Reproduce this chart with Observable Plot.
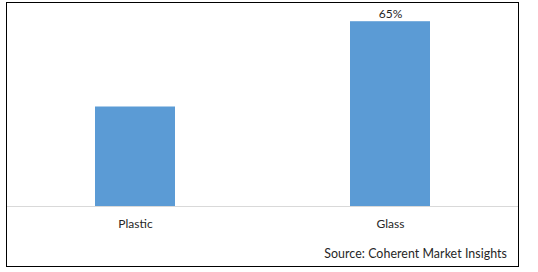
<!DOCTYPE html>
<html>
<head>
<meta charset="utf-8">
<script src="https://cdn.jsdelivr.net/npm/d3@7"></script>
<script src="https://cdn.jsdelivr.net/npm/@observablehq/plot@0.6"></script>
<style>
  html, body { margin: 0; padding: 0; background: #fff; }
  #wrap { position: relative; width: 538px; height: 272px; overflow: hidden; }
  #border { position: absolute; left: 6px; top: 2px; width: 513px; height: 265px; box-sizing: border-box; border: 1.5px solid #000; pointer-events: none; }
  #chart { position: absolute; left: 0; top: 0; }
  #source { position: absolute; right: 31px; top: 246px; font-family: Lato, "Open Sans", sans-serif; font-size: 12.4px; color: #262626; white-space: nowrap; letter-spacing: 0.05px; }
</style>
</head>
<body>
<div id="wrap">
  <div id="chart"></div>
  <div id="border"></div>
  <div id="source">Source: Coherent Market Insights</div>
</div>
<script>
const categories = ["Plastic", "Glass"];
const values = [35, 65];
const valueLabels = ["", "65%"];

const data = categories.map((c, i) => ({category: c, value: values[i], label: valueLabels[i]}));

const chart = Plot.plot({
  width: 538,
  height: 272,
  marginLeft: 7,
  marginRight: 20,
  marginTop: 7,
  marginBottom: 66,
  style: {fontFamily: "Lato, 'Open Sans', sans-serif", fontSize: "12px", color: "#262626", background: "transparent"},
  x: {domain: categories, paddingInner: 0.687, paddingOuter: 0.3435, label: null},
  y: {domain: [0, 70], axis: null},
  marks: [
    Plot.barY(data, {x: "category", y: "value", fill: "#5b9bd5"}),
    Plot.ruleY([0], {stroke: "#d9d9d9", strokeWidth: 1}),
    Plot.text(data.filter(d => d.label), {x: "category", y: "value", text: "label", dy: -8, fontSize: 12, fill: "#262626"}),
    Plot.axisX({tickSize: 0, tickPadding: 13, fontSize: 12, fill: "#262626"})
  ]
});
document.getElementById("chart").appendChild(chart);
</script>
</body>
</html>
